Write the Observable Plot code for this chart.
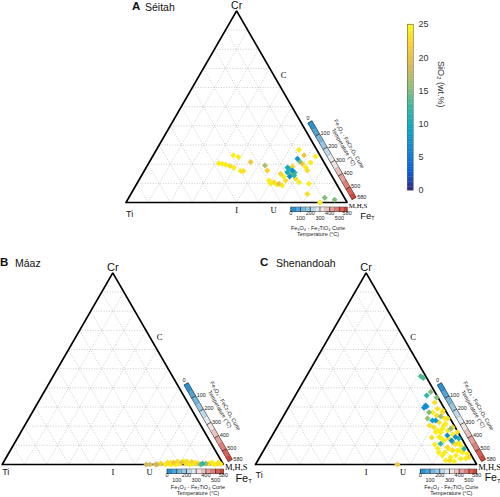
<!DOCTYPE html>
<html>
<head>
<meta charset="utf-8">
<script src="https://cdn.jsdelivr.net/npm/d3@7"></script>
<script src="https://cdn.jsdelivr.net/npm/@observablehq/plot@0.6"></script>
<style>
html,body{margin:0;padding:0;background:#fff;}
#root{position:relative;width:500px;height:497px;overflow:hidden;font-family:"Liberation Sans",Arial,sans-serif;color:#111;}
.slot{position:absolute;}
.slot svg{overflow:visible;display:block;}
.t{position:absolute;line-height:1;white-space:nowrap;}
.t.b{font-weight:bold;font-size:11.5px;}
.t.n{font-size:10.5px;}
</style>
</head>
<body>
<div id="root"></div>
<script>
// ================= DATA =================
const sio2Ticks = [0, 5, 10, 15, 20, 25];
const curieTicks = [0, 100, 200, 300, 400, 500, 580];
const curieTopRow = [0, 200, 400, 580];
const curieBottomRow = [100, 300, 500];
const curieBreaks = [0, 50, 100, 150, 200, 250, 300, 350, 400, 450, 500, 550, 580];
const curieZeroFeTi = 74.5; // Fe_T % on Ti–Fe_T join where the Fe3O4–Fe2TiO4 Curie T reaches 0 °C
const curieZeroCrFe = 40;   // Cr % on Cr–Fe_T join where the Fe3O4–FeCr2O4 Curie T reaches 0 °C
const gridLevels = [10, 20, 30, 40, 50, 60, 70, 80, 90];
const vertexNames = ["Ti", "Cr", "Fe"];
const mineralLabels = ["I", "U", "C", "M,H,S"];
const mineralCr = [0, 0, 200 / 3, 0];
const mineralFe = [50, 200 / 3, 100 / 3, 100];

// Panel A – Séitah (Cr %, Fe_T %, Ti = remainder; SiO2 wt.%)
const seitahCr = [24.6,23.7,20.5,20.2,19.7,19.0,18.1,16.4,16.4,21.1,19.3,16.7,11.5,10.6,9.8,15.0,8.9,11.5,15.8,17.6,15.0,16.7,14.1,12.4,22.8,27.5,20.2,24.6,18.4,16.7,10.6,9.8,4.5,24.0,0,2.5,1.4,18.3,13.6,18.8,15.7,13.6,9.4,9.9,21.4,20.9];
const seitahFe = [36.2,38.9,31.7,33.4,35.2,37.5,39.7,43.6,44.8,45.8,53.2,55.5,58.9,61.6,64.2,62.4,66.2,66.4,65.0,64.9,66.9,66.9,68.9,70.5,66.1,64.4,69.6,68.2,72.0,73.6,72.9,77.8,79.7,73.7,87.7,88.6,93.6,63.9,67.2,65.9,68.4,64.5,63.4,60.4,67.8,73.0];
const seitahSiO2 = [24,24,24,24,24,23,24,24,23,21,17,22,24,23,20,22,24,23,10,12,15,7,12,23,8,24,21,21,24,23,24,24,23,24,24,15,15,10,7,22,12,24,24,24,15,24];

// Panel B – Máaz
const maazCr = [0,0,0,0,0.5,0,1.0,0.3,0,1.0,0,1.6,0.5,1.0,1.7,0.5,1.0,0,1.3,0.5,1.0,0,0.5,0.5,0.5,1.0,0,0.5,0.3,1.0,1.6,0.5,0.5,1.0];
const maazFe = [65.2,66.8,69.4,70.1,71.5,73.9,74.3,75.6,76.6,77.0,78.4,78.5,80.0,80.6,81.2,82.7,83.4,84.8,85.0,86.3,87.0,89.7,90.4,91.8,93.1,94.2,96.1,97.2,98.6,75.7,82.6,88.2,94.9,97.4];
const maazSiO2 = [18,19,18,20,22,24,23,24,24,21,24,23,24,20,24,23,24,24,22,24,24,14,12,16,23,24,24,23,24,24,23,22,24,24];

// Panel C – Shenandoah
const shenCr = [46.0,45.1,37.8,30.8,29.6,30.3,29.1,27.3,25.6,25.1,23.0,22.1,21.3,19.5,18.7,18.7,19.5,16.9,15.2,14.3,16.9,14.3,12.5,11.7,9.9,8.2,5.6,9.0,7.3,4.7,3.8,3.0,3.8,2.1,1.7,0,10.8,28.2,24.0,16.7,13.6,11.5,6.3,7.3,8.4,6.3,
  32.4,27.2,24.0,20.4,17.8,17.8,14.1,15.7,13.6,10.4,10.4,8.4,6.3,4.7,2.1,3.1,7.3,20.4,24.0,27.2,35.0,36.0,12.5,13.6,23.0];
const shenFe = [51.7,53.3,60.3,61.5,61.4,62.2,67.7,64.8,69.1,71.2,68.5,71.9,75.3,70.9,75.1,78.9,79.3,73.0,79.1,83.3,82.8,75.8,78.9,83.2,87.8,90.2,93.0,82.2,87.6,82.1,86.3,91.3,94.6,84.9,88.9,64.1,78.3,70.5,74.9,75.4,80.5,86.1,90.5,85.5,78.2,82.4,
  64.8,66.5,73.5,68.5,73.5,78.0,72.6,81.3,77.4,75.8,85.3,83.1,79.7,88.2,86.7,93.5,88.6,74.9,65.8,71.0,64.4,59.4,82.4,85.1,69.9];
const shenSiO2 = [13,13,15,7,7,8,23,15,23,16,9,23,24,23,24,16,23,24,7,7,23,24,24,16,24,12,24,23,24,24,24,24,23,24,24,21,12,24,23,24,23,24,24,23,24,24,
  23,24,24,23,24,24,23,24,24,24,23,24,24,24,23,24,24,24,16,23,15,12,7,11,8];

// ================= HELPERS =================
const S = Math.sqrt(3) / 2;
const pos = (cr, fe) => ({X: (fe + cr / 2) / 100, Y: cr / 100 * S});
const NRM = [Math.sqrt(3) / 2, 0.5]; // outward normal of the Cr–Fe_T side
const parula = d3.piecewise(d3.interpolateRgb, ["#352a87","#0363e1","#1485d4","#06a7c6","#38b99e","#92bf73","#d9ba56","#fcce2e","#f9fb0e"]);
const curieColor = d3.scaleLinear().domain([0, 300, 580]).range(["#1789cc", "#f4f4f4", "#d23a2e"]);
const bottomAt = (T, off) => ({X: (curieZeroFeTi + (100 - curieZeroFeTi) * T / 580) / 100, Y: -off});
const rightAt = (T, off) => {
  const c = curieZeroCrFe * (1 - T / 580);
  const p = pos(c, 100 - c);
  return {X: p.X + off * NRM[0], Y: p.Y + off * NRM[1]};
};
const linkXY = {x1: d => d.a.X, y1: d => d.a.Y, x2: d => d.b.X, y2: d => d.b.Y};

function curieBar(at, off, marks) {
  const half = 0.0115;
  marks.push(Plot.link([{a: at(0, off), b: at(580, off)}], {...linkXY, stroke: "#333", strokeWidth: 5.4}));
  for (let i = 0; i < curieBreaks.length - 1; i++) {
    const t0 = curieBreaks[i], t1 = curieBreaks[i + 1];
    marks.push(Plot.link([{a: at(t0, off), b: at(t1, off)}], {...linkXY, stroke: curieColor((t0 + t1) / 2), strokeWidth: 4.4}));
  }
  marks.push(Plot.link(curieTicks.map(T => ({a: at(T, off - half), b: at(T, off + half)})), {...linkXY, stroke: "#222", strokeWidth: 0.6}));
}

const serif = "Liberation Serif, Times New Roman, serif";
const sans = "Liberation Sans, Arial, sans-serif";

function panel(p) {
  const pts = p.cr.map((c, i) => ({...pos(c, p.fe[i]), s: p.sio[i]}));
  const tri = [pos(0, 0), pos(0, 100), pos(100, 0), pos(0, 0)];
  const grid = [];
  for (const k of gridLevels) {
    grid.push({a: pos(k, 0), b: pos(k, 100 - k)});
    grid.push({a: pos(0, k), b: pos(100 - k, k)});
    grid.push({a: pos(0, 100 - k), b: pos(100 - k, 0)});
  }
  const marks = [];
  marks.push(Plot.link(grid, {...linkXY, stroke: "#aaaaaa", strokeWidth: 0.6, strokeDasharray: "1,1.6"}));
  // Curie temperature bars
  const bOff = 0.031, rOff = 0.036;
  curieBar(bottomAt, bOff, marks);
  curieBar(rightAt, rOff, marks);
  marks.push(Plot.text(curieTopRow, {x: T => bottomAt(T, 0.05).X, y: T => bottomAt(T, 0.05).Y, text: d => String(d), fontSize: 5.5, fill: "#222", fontFamily: sans}));
  marks.push(Plot.text(curieBottomRow, {x: T => bottomAt(T, 0.07).X, y: T => bottomAt(T, 0.07).Y, text: d => String(d), fontSize: 5.5, fill: "#222", fontFamily: sans}));
  marks.push(Plot.text(["Fe₃O₄ - Fe₂TiO₄ Curie\nTemperature (°C)"], {x: () => p.capX, y: () => p.capY, text: d => d, fontSize: 5.5, lineHeight: 1.1, fill: "#222", fontFamily: sans}));
  marks.push(Plot.text(curieTicks.slice(1), {x: T => rightAt(T, 0.052).X, y: T => rightAt(T, 0.052).Y, text: d => String(d), textAnchor: "start", fontSize: 5.5, fill: "#222", fontFamily: sans}));
  marks.push(Plot.text([0], {x: () => rightAt(-25, rOff).X, y: () => rightAt(-25, rOff).Y, text: d => String(d), fontSize: 5.5, fill: "#222", fontFamily: sans}));
  marks.push(Plot.text(["Fe₃O₄ - FeCr₂O₄ Curie\nTemperature (°C)"], {x: () => rightAt(254, 0.126).X, y: () => rightAt(254, 0.126).Y, text: d => d, rotate: 60, fontSize: 5.5, lineHeight: 1.15, fill: "#222", fontFamily: sans}));
  // triangle
  marks.push(Plot.line(tri, {x: "X", y: "Y", stroke: "#000", strokeWidth: 1.7, strokeLinejoin: "miter"}));
  // data
  marks.push(Plot.dot(pts, {x: "X", y: "Y", fill: "s", symbol: "diamond2", r: 2.7, sort: d => -d.s}));
  // vertex labels
  const ti = pos(0, 0), cr = pos(100, 0), fe = pos(0, 100);
  marks.push(Plot.text([vertexNames[1]], {x: () => cr.X, y: () => cr.Y, text: d => d, lineAnchor: "bottom", dy: -2, fontSize: p.crSize, fontFamily: sans, fill: "#111"}));
  marks.push(Plot.text([vertexNames[0]], {x: () => ti.X, y: () => ti.Y, text: d => d, textAnchor: "start", dy: p.tiDy, fontSize: p.tiSize, fontFamily: sans, fill: "#111"}));
  marks.push(Plot.text([vertexNames[2]], {x: () => fe.X, y: () => fe.Y, text: d => d, textAnchor: "start", dx: p.feDx, dy: p.feDy, fontSize: p.feSize, fontFamily: sans, fill: "#111"}));
  marks.push(Plot.text(["T"], {x: () => fe.X, y: () => fe.Y, text: d => d, textAnchor: "start", dx: p.feDx + p.feSize * 1.17, dy: p.feDy + p.feSize * 0.3, fontSize: p.feSize * 0.55, fontFamily: sans, fill: "#111"}));
  // mineral labels
  const mins = mineralLabels.map((t, i) => ({t, ...pos(mineralCr[i], mineralFe[i])}));
  marks.push(Plot.text(mins.slice(0, 2), {x: "X", y: "Y", text: "t", dy: 8, fontSize: 8.5, fontFamily: serif, fill: "#000"}));
  marks.push(Plot.text(mins.slice(2, 3), {x: "X", y: "Y", text: "t", dx: 10, fontSize: 8.5, fontFamily: serif, fill: "#000"}));
  marks.push(Plot.text(mins.slice(3), {x: "X", y: "Y", text: "t", textAnchor: "start", dx: 1.5, dy: 2.8, fontSize: p.mhsSize, fontFamily: serif, fill: "#000"}));

  return Plot.plot({
    width: p.w, height: p.h,
    marginLeft: p.ml, marginRight: p.mr, marginTop: p.mt, marginBottom: p.mb,
    x: {domain: [0, 1], axis: null},
    y: {domain: [0, S], axis: null},
    color: {domain: [0, 25], interpolate: parula, clamp: true},
    style: {background: "transparent", overflow: "visible", fontFamily: sans},
    marks
  });
}

const panels = [
  {key: "A", name: "Séitah", cr: seitahCr, fe: seitahFe, sio: seitahSiO2, left: 0, top: 0, w: 380, h: 250, ml: 125.5, mr: 33.3, mt: 10.4, mb: 48,
   feSize: 9.5, feDx: 13, feDy: 13, mhsSize: 7, tiDy: 11.5, tiSize: 9, crSize: 10.5, capX: 0.868, capY: -0.127, tx: [132, 145], ty: 0.8},
  {key: "B", name: "Máaz", cr: maazCr, fe: maazFe, sio: maazSiO2, left: 0, top: 250, w: 250, h: 247, ml: 1.7, mr: 27.1, mt: 22.4, mb: 33,
   feSize: 11, feDx: 12, feDy: 13.5, mhsSize: 8.5, tiDy: 8, tiSize: 9, crSize: 11, capX: 0.885, capY: -0.116, tx: [0, 15], ty: 256.8},
  {key: "C", name: "Shenandoah", cr: shenCr, fe: shenFe, sio: shenSiO2, left: 250, top: 250, w: 250, h: 247, ml: 5, mr: 23.8, mt: 22.4, mb: 33,
   feSize: 10.5, feDx: 8, feDy: 13.5, mhsSize: 8.5, tiDy: 11, tiSize: 9, crSize: 11, capX: 0.885, capY: -0.116, tx: [260, 276], ty: 256.8}
];

const root = document.getElementById("root");
for (const p of panels) {
  const slot = document.createElement("div");
  slot.className = "slot";
  Object.assign(slot.style, {left: p.left + "px", top: p.top + "px", width: p.w + "px", height: p.h + "px"});
  slot.appendChild(panel(p));
  root.appendChild(slot);
}
for (const p of panels) {
  const a = document.createElement("div");
  a.className = "t b"; a.textContent = p.key;
  Object.assign(a.style, {left: p.tx[0] + "px", top: p.ty + "px"});
  const n = document.createElement("div");
  n.className = "t n"; n.textContent = p.name;
  Object.assign(n.style, {left: p.tx[1] + "px", top: (p.ty + 0.8) + "px"});
  root.appendChild(a); root.appendChild(n);
}

// SiO2 colour bar
const levels = d3.range(0, 25, 0.25);
const cb = Plot.plot({
  width: 120, height: 200, marginLeft: 27, marginRight: 87, marginTop: 14, marginBottom: 20,
  y: {domain: [0, 25], axis: "right", ticks: sio2Ticks, tickSize: 0, tickPadding: 5, label: null},
  color: {domain: [0, 25], interpolate: parula},
  style: {background: "transparent", overflow: "visible", fontFamily: sans, fontSize: "9px", color: "#333"},
  marks: [
    Plot.rect(levels, {y1: d => d, y2: d => d + 0.3, fill: d => d + 0.125}),
    Plot.frame({stroke: "#666", strokeWidth: 0.6}),
    Plot.text(["SiO₂ (wt.%)"], {frameAnchor: "right", dx: 27, rotate: 90, text: d => d, fontSize: 9, fill: "#333"})
  ]
});
const cbSlot = document.createElement("div");
cbSlot.className = "slot";
Object.assign(cbSlot.style, {left: "380px", top: "10px", width: "120px", height: "200px"});
cbSlot.appendChild(cb);
root.appendChild(cbSlot);
</script>
</body>
</html>
